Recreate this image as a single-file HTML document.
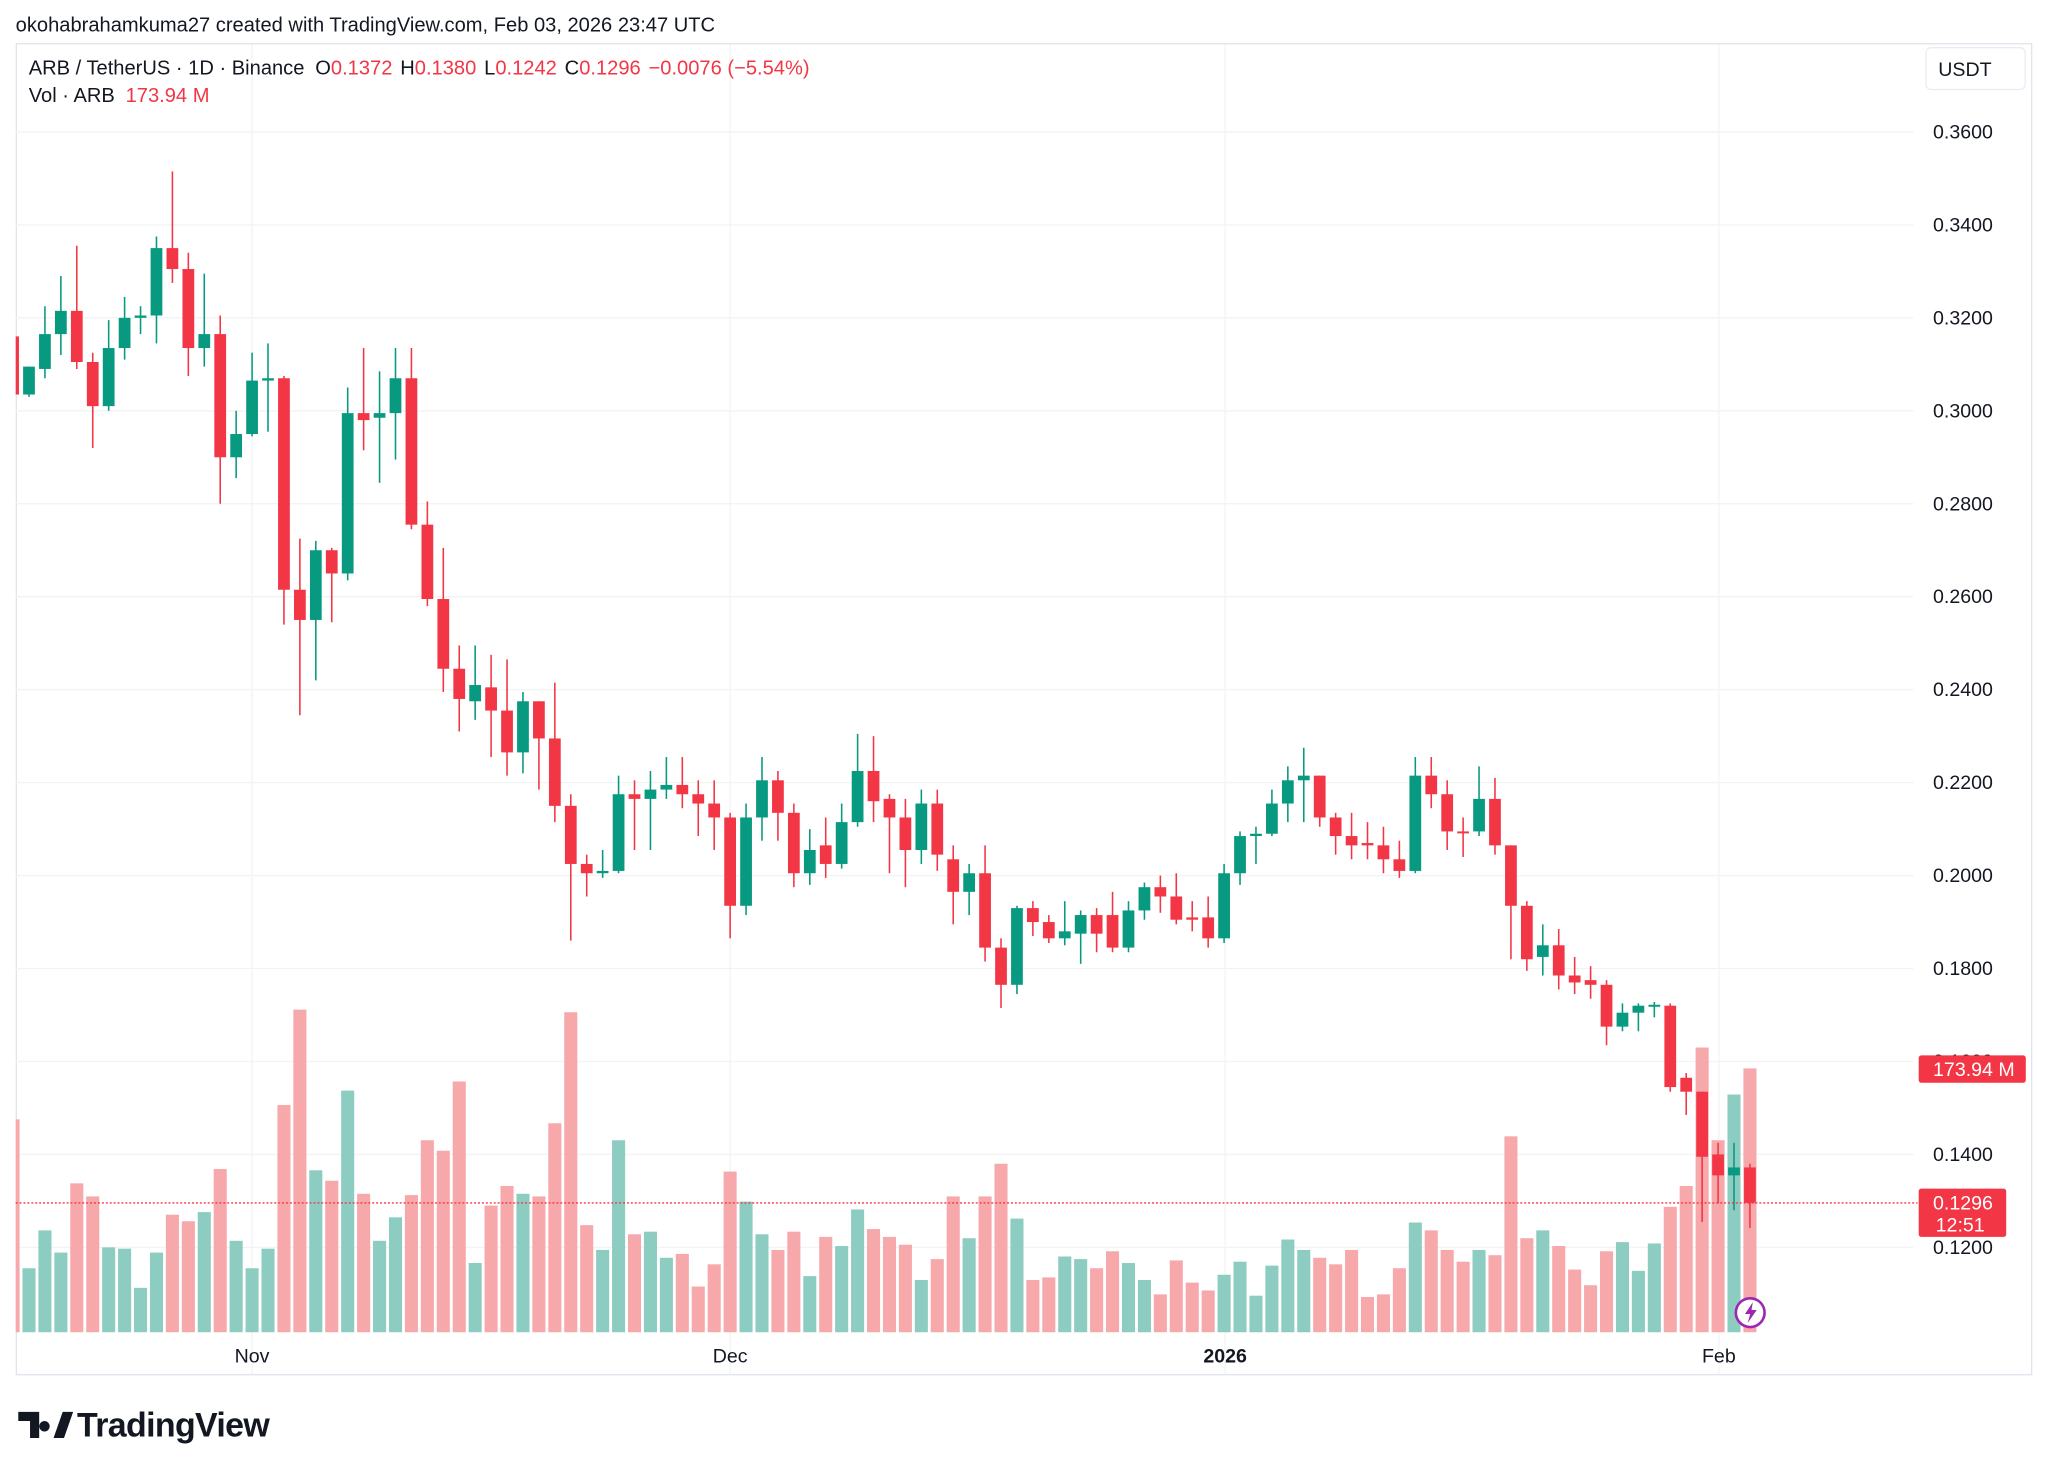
<!DOCTYPE html>
<html><head><meta charset="utf-8"><style>
html,body{margin:0;padding:0;background:#fff;}
svg{display:block;}
text{font-family:"Liberation Sans",sans-serif;}
</style></head><body>
<svg id="s" width="2048" height="1472" viewBox="0 0 1568 1127" preserveAspectRatio="none" xmlns="http://www.w3.org/2000/svg">
<rect width="1568" height="1127" fill="#fff"/>
<text x="12" y="24" font-size="15.4" fill="#131722">okohabrahamkuma27 created with TradingView.com, Feb 03, 2026 23:47 UTC</text>
<rect x="12.5" y="33.5" width="1543" height="1019" fill="none" stroke="#e0e3eb"/>
<g id="grid"></g>
<defs><clipPath id="cp"><rect x="12" y="34" width="1453" height="1000"/></clipPath></defs>
<g id="vol" clip-path="url(#cp)"></g>
<g id="cand" clip-path="url(#cp)"></g>
<line x1="12" y1="921" x2="1468" y2="921" stroke="#f23645" stroke-width="1" stroke-dasharray="1.5,1.5"/>
<g id="axis"></g>
<text x="22" y="57" font-size="15.4" fill="#131722">ARB / TetherUS · 1D · Binance <tspan dx="4">O</tspan><tspan fill="#f23645">0.1372</tspan><tspan dx="6">H</tspan><tspan fill="#f23645">0.1380</tspan><tspan dx="6">L</tspan><tspan fill="#f23645">0.1242</tspan><tspan dx="6">C</tspan><tspan fill="#f23645">0.1296</tspan><tspan dx="6" fill="#f23645">−0.0076 (−5.54%)</tspan></text>
<text x="22" y="78" font-size="15.4" fill="#131722">Vol · ARB <tspan dx="4" fill="#f23645">173.94 M</tspan></text>
<rect x="1474.5" y="36.5" width="76" height="32" rx="4" fill="#fff" stroke="#e9ecf2"/>
<text x="1484" y="58" font-size="15" fill="#131722">USDT</text>
<rect x="1469" y="808" width="82" height="21" rx="2" fill="#f23645"/>
<text x="1480" y="824" font-size="15" fill="#fff">173.94 M</text>
<rect x="1469" y="910" width="67" height="37" rx="2" fill="#f23645"/>
<text x="1480" y="926" font-size="15" fill="#fff">0.1296</text>
<text x="1482" y="943" font-size="15" fill="#fff">12:51</text>
<circle cx="1340" cy="1005" r="11" fill="#fff" stroke="#9c27b0" stroke-width="2"/>
<path d="M1342 997 L1336 1006 L1340 1006 L1338 1013 L1345 1003 L1341 1003 Z" fill="#9c27b0"/>
<text x="193" y="1043" font-size="15" fill="#131722" text-anchor="middle">Nov</text>
<text x="559" y="1043" font-size="15" fill="#131722" text-anchor="middle">Dec</text>
<text x="938" y="1043" font-size="15" fill="#131722" text-anchor="middle" font-weight="bold">2026</text>
<text x="1316" y="1043" font-size="15" fill="#131722" text-anchor="middle">Feb</text>
<path d="M14 1081 H30 V1101 H23 V1088 H14 Z M34 1088 a4 4 0 1 0 0.1 0 Z M41 1101 L48 1081 H56 L49 1101 Z" fill="#131722"/>
<text x="59" y="1100" font-size="26" font-weight="bold" fill="#131722" letter-spacing="-0.5">TradingView</text>
</svg>
<script>
var ns="http://www.w3.org/2000/svg";
function el(p,t,a){var e=document.createElementNS(ns,t);for(var k in a)e.setAttribute(k,a[k]);p.appendChild(e);return e;}
function Y(p){return 101+(0.36-p)*3558.5;}
var g=document.getElementById('grid'),ax=document.getElementById('axis');
for(var i=0;i<=12;i++){var p=0.36-i*0.02,y=Y(p);
 el(g,'line',{x1:12,x2:1465,y1:y,y2:y,stroke:'#f2f3f5'});
 var t=el(ax,'text',{x:1480,y:y+5,'font-size':15,fill:'#131722'});t.textContent=p.toFixed(4);}
[193,559,938,1316].forEach(function(x){el(g,'line',{x1:x,x2:x,y1:34,y2:1052,stroke:'#f2f3f5'});});
var C=[
[.316,.3035,.316,.303],[.3035,.3095,.3095,.303],[.309,.3165,.3225,.307],[.3165,.3215,.329,.312],[.3215,.3105,.3355,.309],
[.3105,.301,.3125,.292],[.301,.3135,.3195,.300],[.3135,.320,.3245,.311],[.320,.3205,.3225,.3165],[.3205,.335,.3375,.3145],
[.335,.3305,.3515,.3275],[.3305,.3135,.334,.3075],[.3135,.3165,.3295,.3095],[.3165,.290,.3205,.280],[.290,.295,.300,.2855],
[.295,.3065,.3125,.2945],[.3065,.307,.3145,.2955],[.307,.2615,.3075,.254],[.2615,.255,.2725,.2345],[.255,.270,.272,.242],
[.270,.265,.2705,.2545],[.265,.2995,.305,.2635],[.2995,.298,.3135,.2915],[.2985,.2995,.3085,.2845],[.2995,.307,.3135,.2895],
[.307,.2755,.3135,.2745],[.2755,.2595,.2805,.258],[.2595,.2445,.2705,.2395],[.2445,.238,.2495,.231],[.2375,.241,.2495,.2335],
[.2405,.2355,.2475,.2255],[.2355,.2265,.2465,.2215],[.2265,.2375,.2395,.222],[.2375,.2295,.2375,.2185],[.2295,.215,.2415,.2115],
[.215,.2025,.2175,.186],[.2025,.2005,.2045,.1955],[.2005,.201,.2055,.1995],[.201,.2175,.2215,.2005],[.2175,.2165,.2205,.2055],
[.2165,.2185,.2225,.2055],[.2185,.2195,.2255,.2165],[.2195,.2175,.2255,.2145],[.2175,.2155,.2205,.2085],[.2155,.2125,.2205,.2055],
[.2125,.1935,.2135,.1865],[.1935,.2125,.2155,.1915],[.2125,.2205,.2255,.2075],[.2205,.2135,.2225,.2075],[.2135,.2005,.2155,.1975],
[.2005,.2055,.210,.198],[.2065,.2025,.2125,.1995],[.2025,.2115,.2155,.2015],[.2115,.2225,.2305,.2105],[.2225,.216,.230,.2115],
[.2165,.2125,.2175,.2005],[.2125,.2055,.2165,.1975],[.2055,.2155,.2185,.2025],[.2155,.2045,.2185,.201],[.2035,.1965,.2065,.1895],
[.1965,.2005,.2025,.1915],[.2005,.1845,.2065,.1815],[.1845,.1765,.1865,.1715],[.1765,.193,.1935,.1745],[.193,.190,.1945,.187],
[.190,.1865,.1915,.1855],[.1865,.188,.1945,.185],[.1875,.1915,.1925,.181],[.1915,.1875,.193,.1835],[.1915,.1845,.1965,.1835],
[.1845,.1925,.1945,.1835],[.1925,.1975,.1985,.1905],[.1975,.1955,.200,.192],[.1955,.1905,.2005,.1895],[.191,.1905,.1945,.188],
[.191,.1865,.1955,.1845],[.1865,.2005,.2025,.1855],[.2005,.2085,.2095,.198],[.2085,.209,.2105,.2025],[.209,.2155,.2185,.2085],
[.2155,.2205,.2235,.2115],[.2205,.2215,.2275,.2115],[.2215,.2125,.2215,.2105],[.2125,.2085,.2135,.2045],[.2085,.2065,.2135,.2035],
[.207,.2065,.2115,.2035],[.2065,.2035,.2105,.2005],[.2035,.201,.2075,.1995],[.201,.2215,.2255,.2005],[.2215,.2175,.2255,.2145],
[.2175,.2095,.2205,.2055],[.2095,.2092,.2125,.204],[.2095,.2165,.2235,.2085],[.2165,.2065,.221,.2045],[.2065,.1935,.2065,.182],
[.1935,.182,.1945,.1795],[.1825,.185,.1895,.1785],[.185,.1785,.1885,.1755],[.1785,.177,.1825,.1745],[.1775,.1765,.1805,.1735],
[.1765,.1675,.1775,.1635],[.1675,.1705,.1725,.1665],[.1705,.172,.1725,.1665],[.172,.1722,.1728,.1695],[.172,.1545,.1725,.1535],
[.1565,.1535,.1575,.1485],[.1535,.1395,.1535,.1255],[.140,.1355,.1425,.1295],[.1355,.1372,.1425,.128],[.1372,.1296,.138,.1242]];
var V=[857,971,942,959,906,916,955,956,986,959,930,935,928,895,950,971,956,846,773,896,904,835,914,950,932,915,873,881,828,967,923,908,914,916,860,775,938,957,873,945,943,963,960,985,968,897,920,945,957,943,977,947,954,926,941,947,953,980,964,916,948,916,891,933,980,978,962,964,971,958,967,980,991,965,982,988,976,966,992,969,949,957,963,968,957,993,991,971,936,942,957,966,957,961,870,948,942,954,972,984,958,951,973,952,924,908,802,873,838,818];
var cg=document.getElementById('cand'),vg=document.getElementById('vol');
for(var i=0;i<C.length;i++){
 var d=i-15,x=193+12.2*d,c=C[i],up=c[1]>=c[0];
 var col=up?'#089981':'#f23645';
 el(vg,'rect',{x:x-5,y:V[i],width:10,height:1020-V[i],fill:up?'#8dccc1':'#f7a8ab'});
 el(cg,'line',{x1:x,x2:x,y1:Y(c[2]),y2:Y(c[3]),stroke:col,'stroke-width':1.2});
 var y1=Y(Math.max(c[0],c[1])),y2=Y(Math.min(c[0],c[1]));
 el(cg,'rect',{x:x-4.5,y:y1,width:9,height:Math.max(1.5,y2-y1),fill:col});
}
</script>
</body></html>
